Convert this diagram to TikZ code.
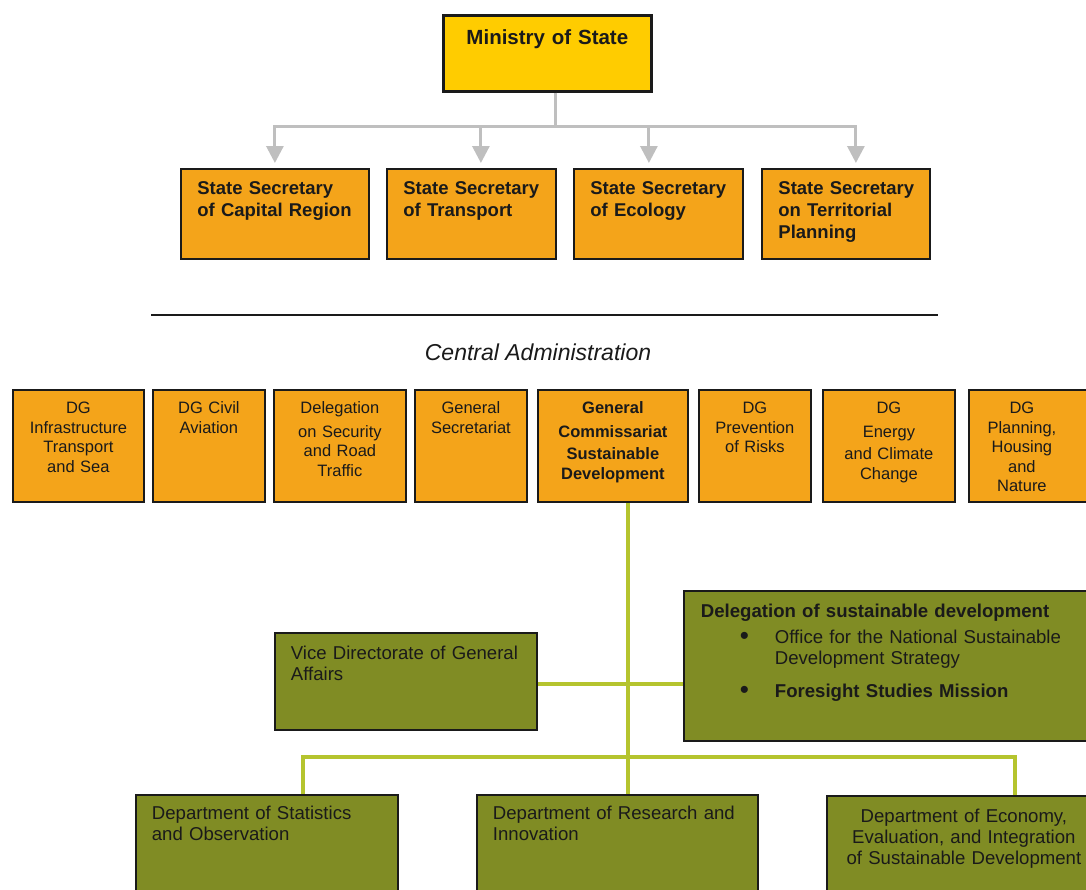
\documentclass[tikz,border=0pt]{standalone}
\usepackage{fontspec}
\setmainfont{Liberation Sans}
\usetikzlibrary{arrows.meta,calc}
\definecolor{ministryyellow}{HTML}{FFCC00}
\definecolor{secorange}{HTML}{F4A41A}
\definecolor{olive}{HTML}{808C24}
\definecolor{limeline}{HTML}{B5C42E}
\definecolor{arrowgray}{HTML}{BFBFBF}
\definecolor{inkblack}{HTML}{1A1A1A}

\begin{document}
\begin{tikzpicture}[x=1pt, y=-1pt,
    box/.style={draw=inkblack, line width=1.8pt, anchor=north west, inner xsep=0pt, text=inkblack},
    ministrybox/.style={box, fill=ministryyellow, line width=2.7pt, align=center, inner ysep=14pt,
        text height=15pt, font=\fontsize{20.5}{24}\selectfont\bfseries},
    secbox/.style={box, fill=secorange, align=left, inner xsep=16.5pt, inner ysep=12pt,
        text height=14pt, text depth=52pt, font=\fontsize{18.5}{22}\selectfont\bfseries},
    dgbox/.style={box, fill=secorange, align=center, inner ysep=12pt,
        text height=12pt, text depth=76pt, font=\fontsize{16.5}{19.5}\selectfont},
    greenbox/.style={box, fill=olive, align=left, inner xsep=16pt, font=\fontsize{18.6}{21}\selectfont},
    grayline/.style={arrowgray, line width=3pt},
    grayarrow/.style={grayline, -{Triangle[width=17pt,length=17pt]}, shorten >=5pt},
    greenline/.style={limeline, line width=4.5pt}
  ]
    \useasboundingbox (0,0) rectangle (1086,889);
    \clip (0,0) rectangle (1086,889);
    \fill[white] (0,0) rectangle (1086,889);

    \node[ministrybox, text width=208pt, text depth=33pt] (ministry) at (442,14) {Ministry of State};

    \node[secbox, text width=155pt] (capital) at (180,168) {\mbox{State Secretary}\\\mbox{of Capital Region}};
    \node[secbox, text width=136pt] (transport) at (386,168) {\mbox{State Secretary}\\of Transport};
    \node[secbox, text width=136pt] (ecology) at (573,168) {\mbox{State Secretary}\\of Ecology};
    \node[secbox, text width=135pt] (territorial) at (761,168) {\mbox{State Secretary}\\\mbox{on Territorial}\\Planning};

    \coordinate (bus) at (555,126);
    \draw[grayline] (bus |- ministry.south) -- (bus);
    \draw[grayarrow] (bus) -| (capital.north);
    \draw[grayarrow] (bus) -| ($(territorial.north)+(10,0)$);
    \draw[grayarrow] ($(transport.north |- bus)+(9.5,0)$) -- ($(transport.north)+(9.5,0)$);
    \draw[grayarrow] ($(ecology.north |- bus)+(-9.5,0)$) -- ($(ecology.north)+(-9.5,0)$);

    \draw[inkblack, line width=1.3pt] (151,315) -- (938,315);
    \node[anchor=base, text=inkblack, font=\fontsize{23}{27}\selectfont\itshape] (central) at (538,360) {Central Administration};

    \node[dgbox, text width=131pt] (infra) at (12,389) {DG\\Infrastructure\\Transport\\and Sea};
    \node[dgbox, text width=112pt] (aviation) at (152,389) {DG Civil\\Aviation};
    \node[dgbox, text width=132pt] (roadsafety) at (273,389) {Delegation\\[4pt]on Security\\and Road\\Traffic};
    \node[dgbox, text width=112pt] (gensec) at (414,389) {General\\Secretariat};
    \node[dgbox, text width=150pt, font=\fontsize{16.5}{19.5}\selectfont\bfseries] (gcsd) at (537,389)
        {General\\[4pt]Commissariat\\[3pt]Sustainable\\Development};
    \node[dgbox, text width=112pt] (risks) at (698,389) {DG\\Prevention\\of Risks};
    \node[dgbox, text width=132pt] (energy) at (822,389) {DG\\[4pt]Energy\\[3pt]and Climate\\Change};
    \node[dgbox] (planning) at (968,389)
        {\parbox[t]{106pt}{\centering DG\\Planning,\\Housing\\and\\Nature}\hspace*{30pt}};

    \node[greenbox, text width=230pt, inner ysep=13pt, text height=14pt, text depth=57pt] (vice) at (274,632)
        {Vice Directorate of General\\Affairs};
    \node[greenbox, text width=386pt, inner xsep=17pt, inner ysep=14pt, text height=13pt, text depth=109pt] (deleg) at (683,590)
        {\textbf{Delegation of sustainable development}\\[4.5pt]
         \hspace*{39pt}\makebox[35pt][l]{\fontsize{26}{21}\selectfont\raisebox{-1pt}{\textbullet}}Office for the National Sustainable\\
         \hspace*{74pt}Development Strategy\\[12.5pt]
         \hspace*{39pt}\makebox[35pt][l]{\fontsize{26}{21}\selectfont\raisebox{-1pt}{\textbullet}}\textbf{Foresight Studies Mission}};

    \node[greenbox, text width=230pt, inner ysep=11pt, text height=14pt, text depth=80pt] (stats) at (135,794)
        {Department of Statistics\\and Observation};
    \node[greenbox, text width=249pt, inner ysep=11pt, text height=14pt, text depth=80pt] (research) at (476,794)
        {Department of Research and\\Innovation};
    \node[greenbox, text width=274pt, inner xsep=0pt, align=center, inner ysep=14pt, text height=13pt, text depth=80pt] (economy) at (826,795)
        {Department of Economy,\\Evaluation, and Integration\\of Sustainable Development};

    \coordinate (trunk) at (628,684);
    \coordinate (fork) at (628,757);
    \draw[greenline] (gcsd.south -| fork) -- (research.north -| fork);
    \draw[greenline] (vice.east |- trunk) -- (deleg.west |- trunk);
    \draw[greenline] ($(stats.north west)+(168,0)$) |- (fork) -| ($(economy.north west)+(189,0)$);
\end{tikzpicture}
\end{document}
